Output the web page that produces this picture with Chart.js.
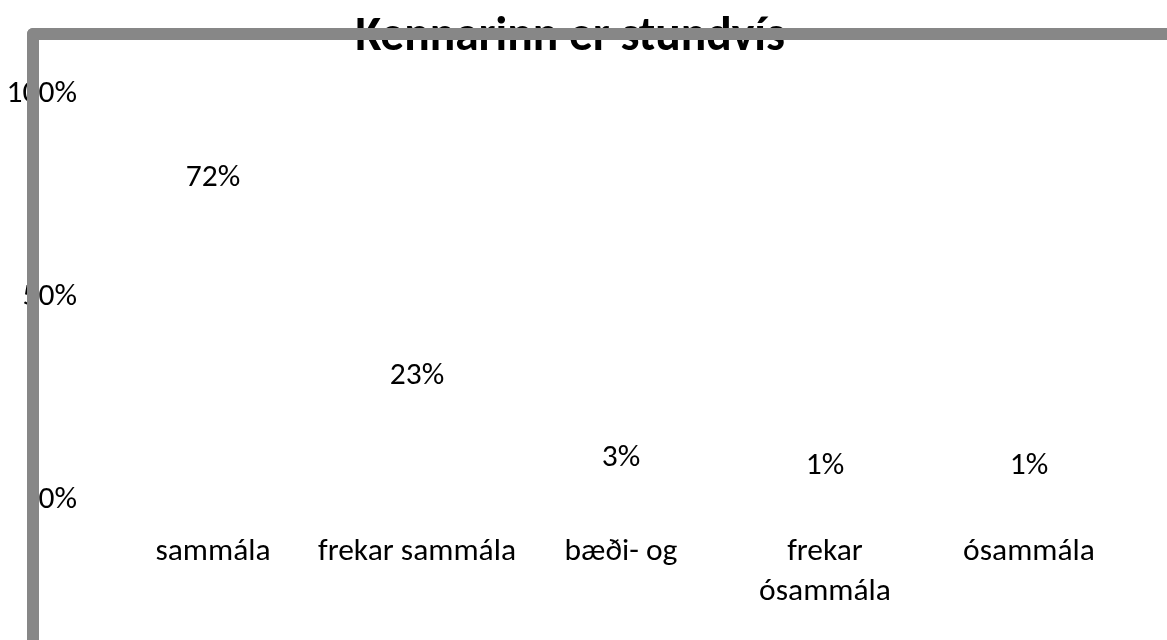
<!DOCTYPE html>
<html>
<head>
<meta charset="utf-8">
<script src="https://cdn.jsdelivr.net/npm/chart.js@4.4.1/dist/chart.umd.min.js"></script>
<style>
  html, body { margin: 0; padding: 0; background: #fff; overflow: hidden; }
  #wrap { position: relative; width: 1167px; height: 640px; }
  #frame {
    position: absolute; left: 27px; top: 28px; right: -20px; bottom: -20px;
    border-left: 12px solid #878787; border-top: 12px solid #878787;
    border-top-left-radius: 6px; pointer-events: none;
  }
</style>
</head>
<body>
<div id="wrap">
  <canvas id="myChart" width="1167" height="640"></canvas>
  <div id="frame"></div>
</div>
<script>
const chartTitle = "Kennarinn er stundvís";
const categories = ["sammála", "frekar sammála", "bæði- og", ["frekar", "ósammála"], "ósammála"];
const percentValues = [72, 23, 3, 1, 1];
const yTicks = [0, 50, 100];

const fontFamily = "Carlito, Lato, 'Open Sans', sans-serif";

// labels above each (invisible) bar
const valueLabels = {
  id: "valueLabels",
  afterDatasetsDraw(chart) {
    const ctx = chart.ctx;
    const meta = chart.getDatasetMeta(0);
    ctx.save();
    ctx.font = "31.5px " + fontFamily;
    ctx.fillStyle = "#000";
    ctx.textAlign = "center";
    ctx.textBaseline = "middle";
    meta.data.forEach((bar, i) => {
      ctx.fillText(percentValues[i] + "%", bar.x, bar.y - 30);
    });
    ctx.restore();
  },
};

document.addEventListener("DOMContentLoaded", function () {
  const ctx = document.getElementById("myChart").getContext("2d");

  new Chart(ctx, {
    type: "bar",
    data: {
      labels: categories,
      datasets: [
        {
          data: percentValues,
          backgroundColor: "rgba(0,0,0,0)",
          borderWidth: 0,
        },
      ],
    },
    options: {
      responsive: false,
      animation: false,
      layout: { padding: { left: 9, right: 36, top: 0, bottom: 0 } },
      plugins: {
        legend: { display: false },
        tooltip: { enabled: false },
        title: {
          display: true,
          text: chartTitle,
          color: "#000",
          font: { family: fontFamily, size: 47.5, weight: "bold", lineHeight: 1.2 },
          padding: { top: 10, bottom: 27 },
        },
      },
      scales: {
        x: {
          grid: { display: false, drawTicks: false },
          border: { display: false },
          afterFit: function (scale) {
            scale.height = 140;
          },
          ticks: {
            color: "#000",
            padding: 32,
            maxRotation: 0,
            autoSkip: false,
            font: { family: fontFamily, size: 31.5, lineHeight: 1.27 },
          },
        },
        y: {
          min: 0,
          max: 100,
          grid: { display: false, drawTicks: false },
          border: { display: false },
          afterFit: function (scale) {
            scale.width = 102;
          },
          afterBuildTicks: function (scale) {
            scale.ticks = yTicks.map((v) => ({ value: v }));
          },
          ticks: {
            color: "#000",
            padding: 34,
            font: { family: fontFamily, size: 31.5 },
            callback: function (value) {
              return value + "%";
            },
          },
        },
      },
    },
    plugins: [valueLabels],
  });
});
</script>
</body>
</html>
